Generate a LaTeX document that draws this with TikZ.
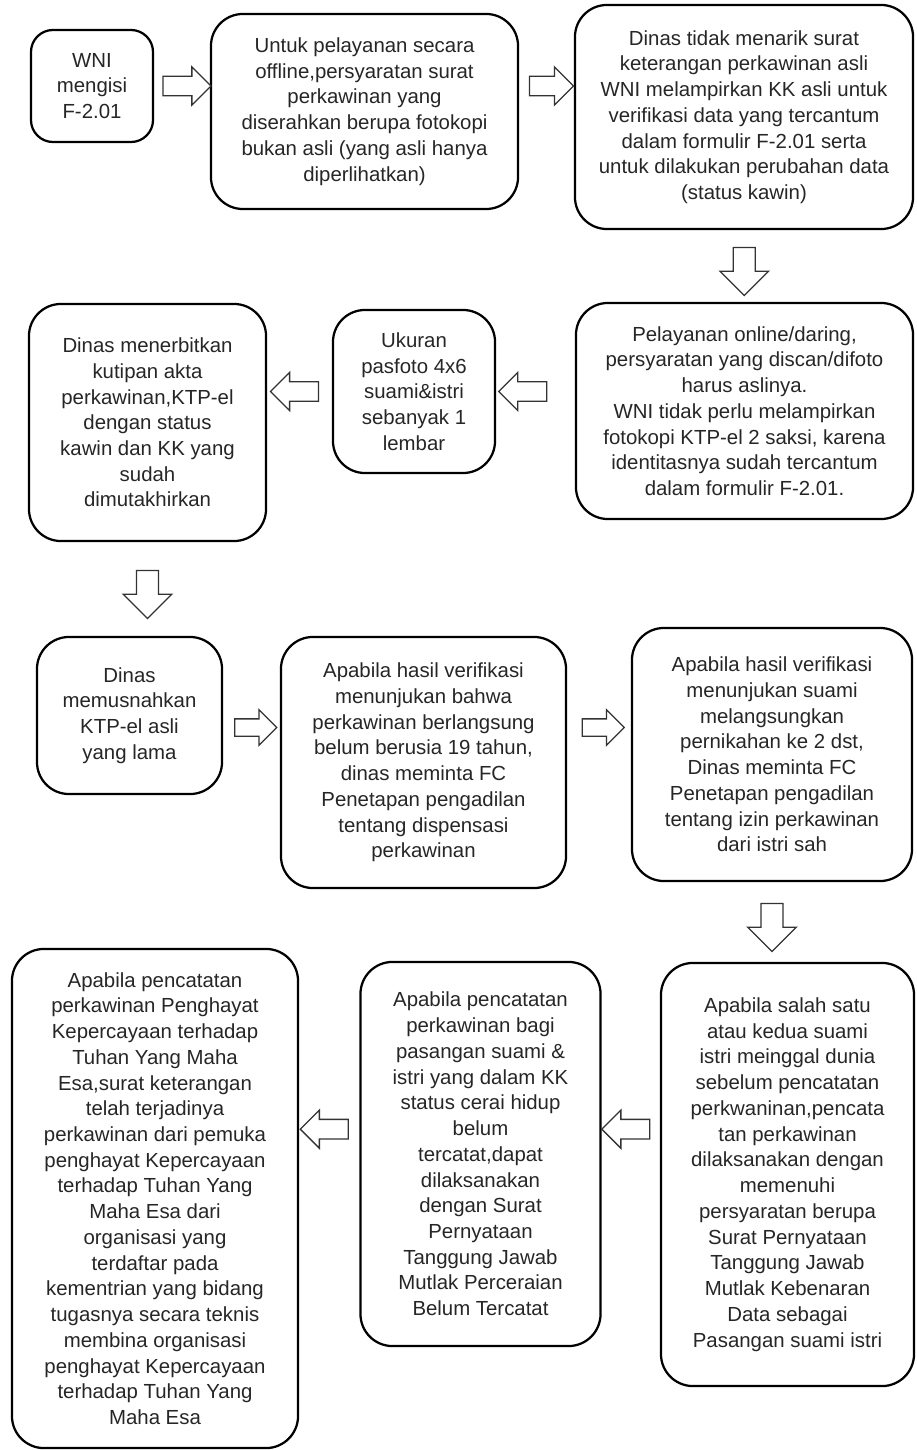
\documentclass[tikz,border=0pt]{standalone}
\usepackage{fontspec}
\setmainfont{Liberation Sans}
\usepackage{tikz}
\usetikzlibrary{shapes.arrows,calc}
\tikzset{
  >=latex,
  box/.style={draw,line width=1.6pt,rounded corners=0.8cm,align=center,inner sep=3pt,text=black!85},
  harr/.style={single arrow,draw=black!80,fill=white,line width=0.9pt,inner xsep=0pt,inner ysep=0.23cm,
    single arrow head extend=0.23cm,minimum height=1.2cm},
  varr/.style={harr,rotate=-90,inner ysep=0.26cm,single arrow head extend=0.33cm},
}
\tikzstyle{every node}=[font=\fontsize{14.5pt}{18.3pt}\selectfont]

\begin{document}
\begin{tikzpicture}[x=0.025cm,y=-0.025cm]
    \useasboundingbox[fill=white] (0,0) rectangle (916,1450);
    % first row
    \node[box,rounded corners=0.55cm,minimum width=3.05cm,minimum height=2.8cm] (b1) at (92,86)
      {WNI\\mengisi\\F-2.01};
    \node[box,minimum width=7.675cm,minimum height=4.875cm] (b2) at (364.5,111.5)
      {Untuk pelayanan secara\\offline,persyaratan surat\\perkawinan yang\\diserahkan berupa fotokopi\\bukan asli (yang asli hanya\\diperlihatkan)};
    \node[box,minimum width=8.45cm,minimum height=5.6cm] (b3) at (744,117)
      {Dinas tidak menarik surat\\keterangan perkawinan asli\\WNI melampirkan KK asli untuk\\verifikasi data yang tercantum\\dalam formulir F-2.01 serta\\untuk dilakukan perubahan data\\(status kawin)};
    % second row
    \node[box,minimum width=8.425cm,minimum height=5.4cm] (b4) at (744.5,411)
      {Pelayanan online/daring,\\persyaratan yang discan/difoto\\harus aslinya.\\WNI tidak perlu melampirkan\\fotokopi KTP-el 2 saksi, karena\\identitasnya sudah tercantum\\dalam formulir F-2.01.};
    \node[box,minimum width=4.05cm,minimum height=4.075cm] (b5) at (414,391.5)
      {Ukuran\\pasfoto 4x6\\suami\&istri\\sebanyak 1\\lembar};
    \node[box,minimum width=5.925cm,minimum height=5.925cm] (b6) at (147.5,422.5)
      {Dinas menerbitkan\\kutipan akta\\perkawinan,KTP-el\\dengan status\\kawin dan KK yang\\sudah\\dimutakhirkan};
    % third row
    \node[box,minimum width=4.625cm,minimum height=3.925cm] (b7) at (129.5,715.5)
      {Dinas\\memusnahkan\\KTP-el asli\\yang lama};
    \node[box,minimum width=7.125cm,minimum height=6.275cm] (b8) at (423.5,762.5)
      {Apabila hasil verifikasi\\menunjukan bahwa\\perkawinan berlangsung\\belum berusia 19 tahun,\\dinas meminta FC\\Penetapan pengadilan\\tentang dispensasi\\perkawinan};
    \node[box,minimum width=7cm,minimum height=6.325cm] (b9) at (772,754.5)
      {Apabila hasil verifikasi\\menunjukan suami\\melangsungkan\\pernikahan ke 2 dst,\\Dinas meminta FC\\Penetapan pengadilan\\tentang izin perkawinan\\dari istri sah};
    % fourth row
    \node[box,minimum width=6.325cm,minimum height=10.575cm] (b10) at (787.5,1174.5)
      {Apabila salah satu\\atau kedua suami\\istri meinggal dunia\\sebelum pencatatan\\perkwaninan,pencata\\tan perkawinan\\dilaksanakan dengan\\memenuhi\\persyaratan berupa\\Surat Pernyataan\\Tanggung Jawab\\Mutlak Kebenaran\\Data sebagai\\Pasangan suami istri};
    \node[box,minimum width=6cm,minimum height=9.6cm] (b11) at (480.5,1154)
      {Apabila pencatatan\\perkawinan bagi\\pasangan suami \&\\istri yang dalam KK\\status cerai hidup\\belum\\tercatat,dapat\\dilaksanakan\\dengan Surat\\Pernyataan\\Tanggung Jawab\\Mutlak Perceraian\\Belum Tercatat};
    \node[box,minimum width=7.15cm,minimum height=12.475cm] (b12) at (155,1198.5)
      {Apabila pencatatan\\perkawinan Penghayat\\Kepercayaan terhadap\\Tuhan Yang Maha\\Esa,surat keterangan\\telah terjadinya\\perkawinan dari pemuka\\penghayat Kepercayaan\\terhadap Tuhan Yang\\Maha Esa dari\\organisasi yang\\terdaftar pada\\kementrian yang bidang\\tugasnya secara teknis\\membina organisasi\\penghayat Kepercayaan\\terhadap Tuhan Yang\\Maha Esa};
    % block arrows
    \node[harr] (a12) at ($(b1.east)!.5!(b1.east -| b2.west)$) {};
    \node[harr,minimum height=1.1cm] (a23) at ($(b1.east -| b2.east)!.5!(b1.east -| b3.west)$) {};
    \node[varr] (a34) at ($(b3.south)!.5!(b4.north)$) {};
    \node[harr,rotate=180] (a45) at ($(b5.east)!.4!(b5.east -| b4.west)$) {};
    \node[harr,rotate=180] (a56) at ($(b6.east |- b5.east)!.5!(b5.west)$) {};
    \node[varr] (a67) at ($(b6.south)!.5!(b6.south |- b7.north)$) {};
    \node[harr,minimum height=1.05cm,inner ysep=0.2cm,yshift=-0.3cm] (a78) at ($(b7.east)!.5!(b7.east -| b8.west)$) {};
    \node[harr,minimum height=1.05cm,inner ysep=0.2cm] (a89) at ($(a78 -| b8.east)!.5!(a78 -| b9.west)$) {};
    \node[varr] (a910) at ($(b9.south)!.5!(b9.south |- b10.north)$) {};
    \node[harr,rotate=180,yshift=-0.62cm] (a1011) at ($(b11.east)!.5!(b11.east -| b10.west)$) {};
    \node[harr,rotate=180] (a1112) at ($(a1011 -| b12.east)!.5!(a1011 -| b11.west)$) {};
\end{tikzpicture}
\end{document}
